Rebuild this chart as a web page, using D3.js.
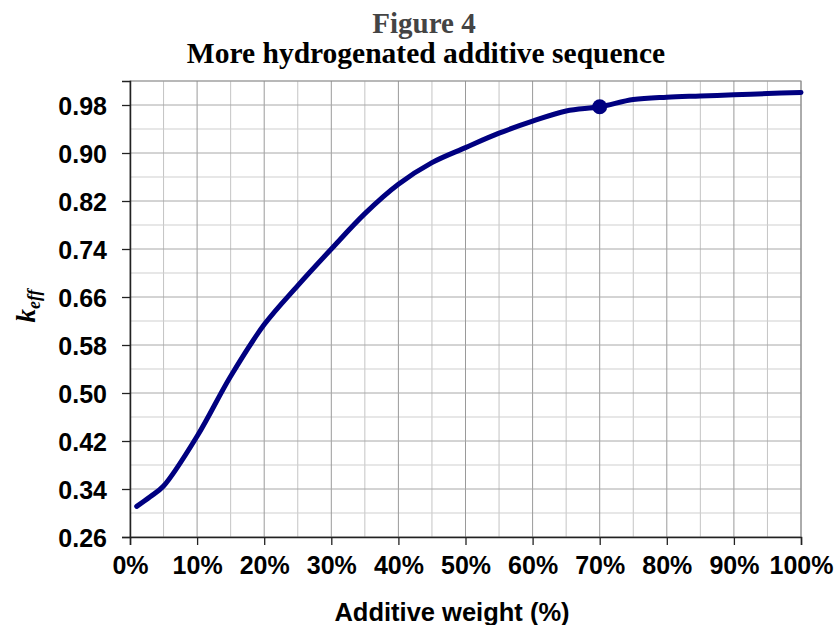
<!DOCTYPE html>
<html>
<head>
<meta charset="utf-8">
<script src="https://cdn.jsdelivr.net/npm/d3@7"></script>
<style>
    body { margin: 0; background: #fff; }
    svg { display: block; }
    .tick text { font-family: "Liberation Sans", Arial, sans-serif; font-weight: bold; }
</style>
</head>
<body>
<svg id="chart" width="837" height="625"></svg>
<script>
// additive weight (%) and k_eff
const pesos = [1, 3, 5, 10, 15, 20, 25, 30, 35, 40, 45, 50, 55, 60, 65, 70, 75, 80, 85, 90, 95, 100];
const keff = [0.311, 0.327, 0.345, 0.428, 0.528, 0.614, 0.679, 0.740, 0.799, 0.848, 0.884, 0.909, 0.933, 0.953, 0.970, 0.977, 0.989, 0.993, 0.995, 0.997, 0.999, 1.001];
const destaque = [70];
const destaqueValor = [0.977];
const xTicks = [0, 10, 20, 30, 40, 50, 60, 70, 80, 90, 100];
const yTicks = [0.26, 0.34, 0.42, 0.50, 0.58, 0.66, 0.74, 0.82, 0.90, 0.98];

const svg = d3.select("#chart");
const margin = { top: 81, right: 36, bottom: 88, left: 130 };
const width = 837 - margin.left - margin.right,
    height = 625 - margin.top - margin.bottom;

let x = d3.scaleLinear().domain([0, 100]).range([0, width]);
let y = d3.scaleLinear().domain([0.26, 1.02]).range([height, 0]);

let g = svg.append("g").attr("transform", `translate(${margin.left},${margin.top})`);

// grade menor
g.append("g")
    .selectAll("line")
    .data(d3.range(5, 100, 10))
    .enter().append("line")
    .attr("x1", d => x(d)).attr("x2", d => x(d))
    .attr("y1", 0).attr("y2", height)
    .attr("stroke", "#c4c4c4");

g.append("g")
    .selectAll("line")
    .data(d3.range(0.30, 1.0, 0.08).concat([1.02]))
    .enter().append("line")
    .attr("x1", 0).attr("x2", width)
    .attr("y1", d => y(d)).attr("y2", d => y(d))
    .attr("stroke", "#cfcfcf");

// grade maior
g.append("g")
    .selectAll("line")
    .data(xTicks.slice(1))
    .enter().append("line")
    .attr("x1", d => x(d)).attr("x2", d => x(d))
    .attr("y1", 0).attr("y2", height)
    .attr("stroke", "#9a9a9a");

g.append("g")
    .selectAll("line")
    .data(yTicks.slice(1))
    .enter().append("line")
    .attr("x1", 0).attr("x2", width)
    .attr("y1", d => y(d)).attr("y2", d => y(d))
    .attr("stroke", "#a8a8a8");

// borda
g.append("rect")
    .attr("x", 0).attr("y", 0)
    .attr("width", width).attr("height", height)
    .attr("fill", "none")
    .attr("stroke", "#8a8a8a");

let xAxis = g.append("g")
    .attr("transform", `translate(0,${height})`)
    .call(d3.axisBottom(x).tickValues(xTicks).tickFormat(d => d + "%").tickSize(8).tickPadding(11));
xAxis.selectAll("text").style("font-size", "25px").attr("fill", "#000");

let yAxis = g.append("g")
    .call(d3.axisLeft(y).tickValues(yTicks).tickFormat(d3.format(".2f")).tickSize(8).tickPadding(15));
yAxis.selectAll("text").style("font-size", "25px").attr("fill", "#000").attr("dy", "0.36em");

[xAxis, yAxis].forEach(a => {
    a.select(".domain").attr("stroke", "#222").attr("stroke-width", 1.5);
    a.selectAll(".tick line").attr("stroke", "#222").attr("stroke-width", 1.3);
});

// curva
let linha = d3.line()
    .x((d, i) => x(pesos[i]))
    .y(d => y(d))
    .curve(d3.curveCatmullRom.alpha(0.5));

g.append("path")
    .datum(keff)
    .attr("d", linha)
    .attr("fill", "none")
    .attr("stroke", "#000080")
    .attr("stroke-width", 5)
    .attr("stroke-linecap", "round");

g.selectAll(".ponto")
    .data(destaque)
    .enter().append("circle")
    .attr("class", "ponto")
    .attr("cx", d => x(d))
    .attr("cy", (d, i) => y(destaqueValor[i]))
    .attr("r", 7.5)
    .attr("fill", "#000080");

// titulos
svg.append("text")
    .attr("x", 424).attr("y", 33)
    .attr("text-anchor", "middle")
    .style("font-family", "'Liberation Serif', 'Times New Roman', serif")
    .style("font-weight", "bold")
    .style("font-size", "29px")
    .attr("fill", "#444")
    .text("Figure 4");

svg.append("text")
    .attr("x", 426).attr("y", 63)
    .attr("text-anchor", "middle")
    .style("font-family", "'Liberation Serif', 'Times New Roman', serif")
    .style("font-weight", "bold")
    .style("font-size", "29.5px")
    .attr("fill", "#000")
    .text("More hydrogenated additive sequence");

svg.append("text")
    .attr("x", 452).attr("y", 621)
    .attr("text-anchor", "middle")
    .style("font-family", "'Liberation Sans', Arial, sans-serif")
    .style("font-weight", "bold")
    .style("font-size", "25.5px")
    .text("Additive weight (%)");

let rotulo = svg.append("text")
    .attr("transform", "translate(35,306) rotate(-90)")
    .attr("text-anchor", "middle")
    .style("font-family", "'Liberation Serif', 'Times New Roman', serif")
    .style("font-weight", "bold")
    .style("font-style", "italic")
    .style("font-size", "27px");
rotulo.append("tspan").text("k");
rotulo.append("tspan").attr("dy", 5).style("font-size", "18px").text("eff");
</script>
</body>
</html>
